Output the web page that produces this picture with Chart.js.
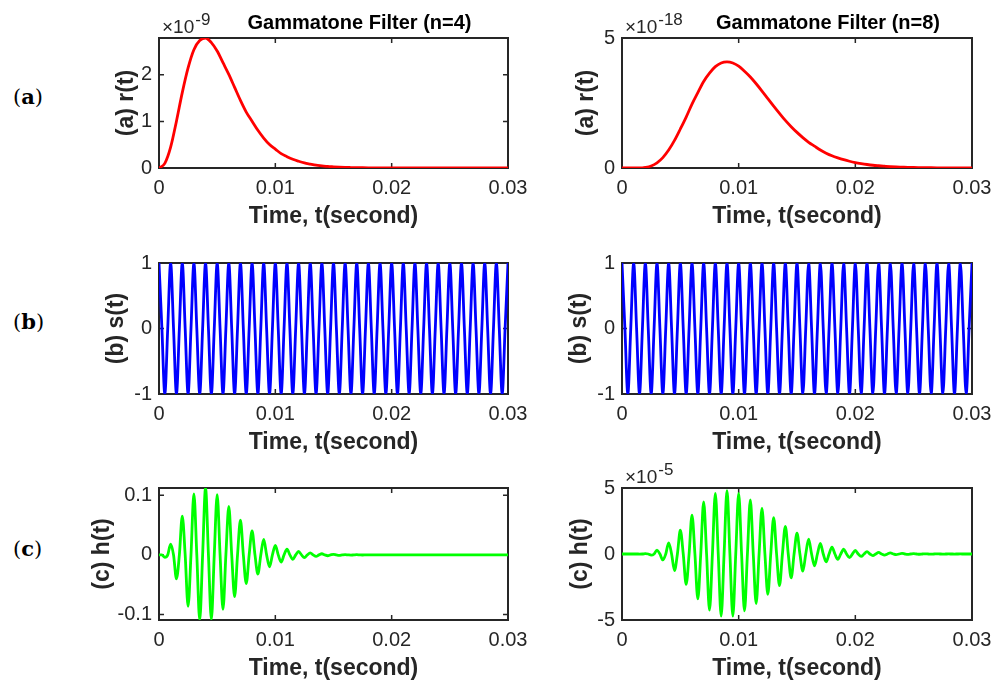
<!DOCTYPE html>
<html>
<head>
<meta charset="utf-8">
<title>Gammatone Filter</title>
<script src="https://cdn.jsdelivr.net/npm/chart.js@4.4.0/dist/chart.umd.min.js"></script>
<style>
  html, body { margin: 0; padding: 0; background: #ffffff; }
  #page { position: relative; width: 1000px; height: 682px; overflow: hidden; background: #ffffff; }
  #page canvas { position: absolute; }
  .row-label {
    position: absolute; left: 13px;
    font-family: "DejaVu Serif", "Liberation Serif", serif;
    font-size: 21px; line-height: 26px; color: #000;
  }
  .row-label b { font-weight: bold; }
</style>
</head>
<body>
<div id="page">
  <div class="row-label" style="top:84px">(<b>a</b>)</div>
  <div class="row-label" style="top:309px">(<b>b</b>)</div>
  <div class="row-label" style="top:536px">(<b>c</b>)</div>
</div>
<script>
// ---- time bases (milliseconds) ----
const timeEnvMs = [0,0.5,1,1.5,2,2.5,3,3.5,4,4.5,5,5.5,6,6.5,7,7.5,8,8.5,9,9.5,
  10,10.5,11,11.5,12,12.5,13,13.5,14,14.5,15,15.5,16,16.5,17,17.5,18,18.5,19,19.5,
  20,20.5,21,21.5,22,22.5,23,23.5,24,24.5,25,25.5,26,26.5,27,27.5,28,28.5,29,29.5,30];

const timeOscMs = [
  0,0.25,0.5,0.75,1,1.25,1.5,1.75,
  2,2.25,2.5,2.75,3,3.25,3.5,3.75,
  4,4.25,4.5,4.75,5,5.25,5.5,5.75,
  6,6.25,6.5,6.75,7,7.25,7.5,7.75,
  8,8.25,8.5,8.75,9,9.25,9.5,9.75,
  10,10.25,10.5,10.75,11,11.25,11.5,11.75,
  12,12.25,12.5,12.75,13,13.25,13.5,13.75,
  14,14.25,14.5,14.75,15,15.25,15.5,15.75,
  16,16.25,16.5,16.75,17,17.25,17.5,17.75,
  18,18.25,18.5,18.75,19,19.25,19.5,19.75,
  20,20.25,20.5,20.75,21,21.25,21.5,21.75,
  22,22.25,22.5,22.75,23,23.25,23.5,23.75,
  24,24.25,24.5,24.75,25,25.25,25.5,25.75,
  26,26.25,26.5,26.75,27,27.25,27.5,27.75,
  28,28.25,28.5,28.75,29,29.25,29.5,29.75,
  30];

// ---- (a) envelope r(t) ----
// n = 4, in units of 1e-9
const rN4 = [
  0,0.098,0.446,1.004,1.618,2.148,2.539,2.734,2.79,2.692,
  2.511,2.26,2.009,1.73,1.451,1.2,1.004,0.809,0.642,0.502,
  0.405,0.307,0.243,0.187,0.145,0.109,0.084,0.061,0.047,0.033,
  0.025,0.018,0.013,0.0098,0.007,0.005,0.0036,0.0025,0.0017,0.0011,
  0.0008,0.0006,0.0004,0.0003,0.0002,0.0002,0.0001,0.0001,0.0001,0.0001,
  0,0,0,0,0,0,0,0,0,0,
  0];
// n = 8, in units of 1e-18
const rN8 = [
  0,0,0,0.002,0.025,0.078,0.2,0.4,0.69,1.06,
  1.5,1.96,2.46,2.9,3.33,3.65,3.9,4.04,4.08,4.04,
  3.92,3.72,3.5,3.24,2.96,2.67,2.38,2.1,1.83,1.59,
  1.37,1.17,0.99,0.84,0.69,0.57,0.47,0.39,0.32,0.26,
  0.21,0.17,0.135,0.106,0.086,0.069,0.053,0.041,0.033,0.025,
  0.02,0.016,0.012,0.009,0.007,0.005,0.004,0.003,0.002,0.0016,
  0.0012];

// ---- (b) carrier s(t): peaks, zero crossings and troughs ----
const sCarrier = [
  1,0,-1,0,1,0,-1,0, 1,0,-1,0,1,0,-1,0, 1,0,-1,0,1,0,-1,0,
  1,0,-1,0,1,0,-1,0, 1,0,-1,0,1,0,-1,0, 1,0,-1,0,1,0,-1,0,
  1,0,-1,0,1,0,-1,0, 1,0,-1,0,1,0,-1,0, 1,0,-1,0,1,0,-1,0,
  1,0,-1,0,1,0,-1,0, 1,0,-1,0,1,0,-1,0, 1,0,-1,0,1,0,-1,0,
  1,0,-1,0,1,0,-1,0, 1,0,-1,0,1,0,-1,0, 1,0,-1,0,1,0,-1,0,
  1];

// ---- (c) impulse response h(t) ----
// n = 4
const hN4 = [
  0,0,-0.004,0,0.018,0,-0.040,0,
  0.065,0,-0.086,0,0.102,0,-0.109,0,
  0.112,0,-0.108,0,0.101,0,-0.091,0,
  0.081,0,-0.070,0,0.058,0,-0.048,0,
  0.040,0,-0.032,0,0.026,0,-0.020,0,
  0.016,0,-0.012,0,0.0097,0,-0.0075,0,
  0.0058,0,-0.0044,0,0.0034,0,-0.0025,0,
  0.0019,0,-0.0014,0,0.001,0,-0.0007,0,
  0.0005,0,-0.0004,0,0.0003,0,-0.0002,0,
  0.00015,0,-0.0001,0,0.00007,0,-0.00005,0,
  0.00003,0,0,0,0,0,0,0,
  0,0,0,0,0,0,0,0,
  0,0,0,0,0,0,0,0,
  0,0,0,0,0,0,0,0,
  0,0,0,0,0,0,0,0,
  0];
// n = 8, in units of 1e-5
const hN8 = [
  0,0,0,0,0,0,-0.002,0,
  0.03,0,-0.09,0,0.3,0,-0.45,0,
  0.85,0,-1.25,0,1.8,0,-2.3,0,
  2.95,0,-3.4,0,3.95,0,-4.25,0,
  4.6,0,-4.7,0,4.8,0,-4.7,0,
  4.6,0,-4.3,0,4.1,0,-3.75,0,
  3.45,0,-3.05,0,2.75,0,-2.4,0,
  2.1,0,-1.8,0,1.58,0,-1.3,0,
  1.12,0,-0.9,0,0.8,0,-0.6,0,
  0.52,0,-0.4,0,0.37,0,-0.27,0,
  0.27,0,-0.18,0,0.18,0,-0.12,0,
  0.12,0,-0.08,0,0.08,0,-0.05,0,
  0.05,0,-0.03,0,0.03,0,-0.02,0,
  0.015,0,-0.01,0,0.008,0,-0.005,0,
  0.004,0,-0.003,0,0.002,0,-0.0015,0,
  0.001];

// ---- ticks ----
const xTickValues = [0, 10, 20, 30];
const xTickLabels = ['0', '0.01', '0.02', '0.03'];
const yTicksR4 = [0, 1, 2],      yLabelsR4 = ['0', '1', '2'];
const yTicksR8 = [0, 5],         yLabelsR8 = ['0', '5'];
const yTicksS  = [-1, 0, 1],     yLabelsS  = ['-1', '0', '1'];
const yTicksH4 = [-0.1, 0, 0.1], yLabelsH4 = ['-0.1', '0', '0.1'];
const yTicksH8 = [-5, 0, 5],     yLabelsH8 = ['-5', '0', '5'];

// ---- page layout ----
const FONT = "'Liberation Sans', Arial, Helvetica, sans-serif";
const INK = '#262626';
const columns = [
  { canvasLeft: 60,  canvasWidth: 485, boxLeft: 159, boxRight: 508 },
  { canvasLeft: 545, canvasWidth: 455, boxLeft: 622, boxRight: 972 }
];
const rows = [
  { canvasTop: 0,   canvasHeight: 230, boxTop: 38,  boxBottom: 168 },
  { canvasTop: 230, canvasHeight: 225, boxTop: 263, boxBottom: 394 },
  { canvasTop: 455, canvasHeight: 227, boxTop: 488, boxBottom: 620 }
];

Chart.defaults.font.family = FONT;
Chart.defaults.color = INK;

// MATLAB-style frame: box on, inward ticks on all four sides, plus title and exponent
const axesFrame = {
  id: 'axesFrame',
  beforeDatasetsDraw(chart) {
    const { ctx, chartArea: a, scales } = chart;
    const xs = scales.x, ys = scales.y, L = 5;
    ctx.save();
    ctx.strokeStyle = INK;
    ctx.lineWidth = 1.5;
    ctx.beginPath();
    xs.ticks.forEach(t => {
      const p = xs.getPixelForValue(t.value);
      ctx.moveTo(p, a.bottom); ctx.lineTo(p, a.bottom - L);
      ctx.moveTo(p, a.top);    ctx.lineTo(p, a.top + L);
    });
    ys.ticks.forEach(t => {
      const p = ys.getPixelForValue(t.value);
      ctx.moveTo(a.left, p);  ctx.lineTo(a.left + L, p);
      ctx.moveTo(a.right, p); ctx.lineTo(a.right - L, p);
    });
    ctx.stroke();
    ctx.lineWidth = 2;
    ctx.strokeRect(a.left, a.top, a.right - a.left, a.bottom - a.top);
    ctx.restore();
  },
  afterDraw(chart, args, opts) {
    const { ctx, chartArea: a } = chart;
    ctx.save();
    if (opts.exponent) {
      ctx.fillStyle = INK;
      ctx.textAlign = 'left';
      ctx.textBaseline = 'alphabetic';
      ctx.font = '19px ' + FONT;
      const x0 = a.left + 3, y0 = a.top - 5;
      ctx.fillText('\u00D710', x0, y0);
      const w = ctx.measureText('\u00D710').width;
      ctx.font = '17px ' + FONT;
      ctx.fillText(opts.exponent, x0 + w + 1, y0 - 8);
    }
    if (opts.title) {
      ctx.fillStyle = '#000000';
      ctx.textAlign = 'center';
      ctx.textBaseline = 'alphabetic';
      ctx.font = 'bold 20px ' + FONT;
      ctx.fillText(opts.title, (a.left + a.right) / 2 + (opts.titleShift || 0), a.top - 9);
    }
    ctx.restore();
  }
};

function makePanel(col, row, spec) {
  const c = columns[col], r = rows[row];
  const canvas = document.createElement('canvas');
  canvas.width = c.canvasWidth;
  canvas.height = r.canvasHeight;
  canvas.style.left = c.canvasLeft + 'px';
  canvas.style.top = r.canvasTop + 'px';
  canvas.style.width = c.canvasWidth + 'px';
  canvas.style.height = r.canvasHeight + 'px';
  document.getElementById('page').appendChild(canvas);

  const canvasBottom = r.canvasTop + r.canvasHeight;
  const titleSize = 23;

  new Chart(canvas, {
    type: 'line',
    data: {
      labels: spec.time,
      datasets: [{
        data: spec.values,
        borderColor: spec.color,
        borderWidth: 2.8,
        pointRadius: 0,
        fill: false,
        cubicInterpolationMode: 'monotone'
      }]
    },
    options: {
      responsive: false,
      animation: false,
      devicePixelRatio: 1,
      layout: {
        padding: {
          left: 0,
          top: r.boxTop - r.canvasTop,
          right: c.canvasLeft + c.canvasWidth - c.boxRight,
          bottom: 0
        }
      },
      plugins: {
        legend: { display: false },
        tooltip: { enabled: false },
        axesFrame: { title: spec.title, titleShift: spec.titleShift, exponent: spec.exponent }
      },
      scales: {
        x: {
          type: 'linear',
          min: 0, max: 30,
          grid: { display: false, drawTicks: false },
          border: { display: false },
          afterBuildTicks: s => { s.ticks = xTickValues.map(v => ({ value: v })); },
          afterFit: s => { s.height = canvasBottom - r.boxBottom; },
          ticks: {
            autoSkip: false, maxRotation: 0, padding: 8, color: INK,
            font: { size: 20, lineHeight: 1.2 },
            callback: (v, i) => xTickLabels[i]
          },
          title: {
            display: true, text: 'Time, t(second)', color: INK,
            font: { size: titleSize, weight: 'bold', lineHeight: 1 },
            padding: { top: 0, bottom: canvasBottom - (r.boxBottom + 49) - titleSize / 2 }
          }
        },
        y: {
          type: 'linear',
          min: spec.yMin, max: spec.yMax,
          grid: { display: false, drawTicks: false },
          border: { display: false },
          afterBuildTicks: s => { s.ticks = spec.yTicks.map(v => ({ value: v })); },
          afterFit: s => { s.width = c.boxLeft - c.canvasLeft; },
          ticks: {
            autoSkip: false, padding: 7, color: INK,
            font: { size: 20, lineHeight: 1.2 },
            callback: (v, i) => spec.yLabels[i]
          },
          title: {
            display: true, text: spec.yTitle, color: INK,
            font: { size: titleSize, weight: 'bold', lineHeight: 1 },
            padding: { top: spec.yTitleX - c.canvasLeft - titleSize / 2, bottom: 0 }
          }
        }
      }
    },
    plugins: [axesFrame]
  });
}

const RED = '#ff0000', BLUE = '#0000ff', GREEN = '#00ff00';

makePanel(0, 0, { time: timeEnvMs, values: rN4, color: RED,
  yMin: 0, yMax: Math.max(...rN4), yTicks: yTicksR4, yLabels: yLabelsR4,
  yTitle: '(a) r(t)', yTitleX: 127,
  title: 'Gammatone Filter (n=4)', titleShift: 26, exponent: '-9' });
makePanel(1, 0, { time: timeEnvMs, values: rN8, color: RED,
  yMin: 0, yMax: 5, yTicks: yTicksR8, yLabels: yLabelsR8,
  yTitle: '(a) r(t)', yTitleX: 587,
  title: 'Gammatone Filter (n=8)', titleShift: 31, exponent: '-18' });

makePanel(0, 1, { time: timeOscMs, values: sCarrier, color: BLUE,
  yMin: -1, yMax: 1, yTicks: yTicksS, yLabels: yLabelsS,
  yTitle: '(b) s(t)', yTitleX: 117 });
makePanel(1, 1, { time: timeOscMs, values: sCarrier, color: BLUE,
  yMin: -1, yMax: 1, yTicks: yTicksS, yLabels: yLabelsS,
  yTitle: '(b) s(t)', yTitleX: 580 });

makePanel(0, 2, { time: timeOscMs, values: hN4, color: GREEN,
  yMin: Math.min(...hN4), yMax: Math.max(...hN4), yTicks: yTicksH4, yLabels: yLabelsH4,
  yTitle: '(c) h(t)', yTitleX: 103 });
makePanel(1, 2, { time: timeOscMs, values: hN8, color: GREEN,
  yMin: -5, yMax: 5, yTicks: yTicksH8, yLabels: yLabelsH8,
  yTitle: '(c) h(t)', yTitleX: 581, exponent: '-5' });
</script>
</body>
</html>
